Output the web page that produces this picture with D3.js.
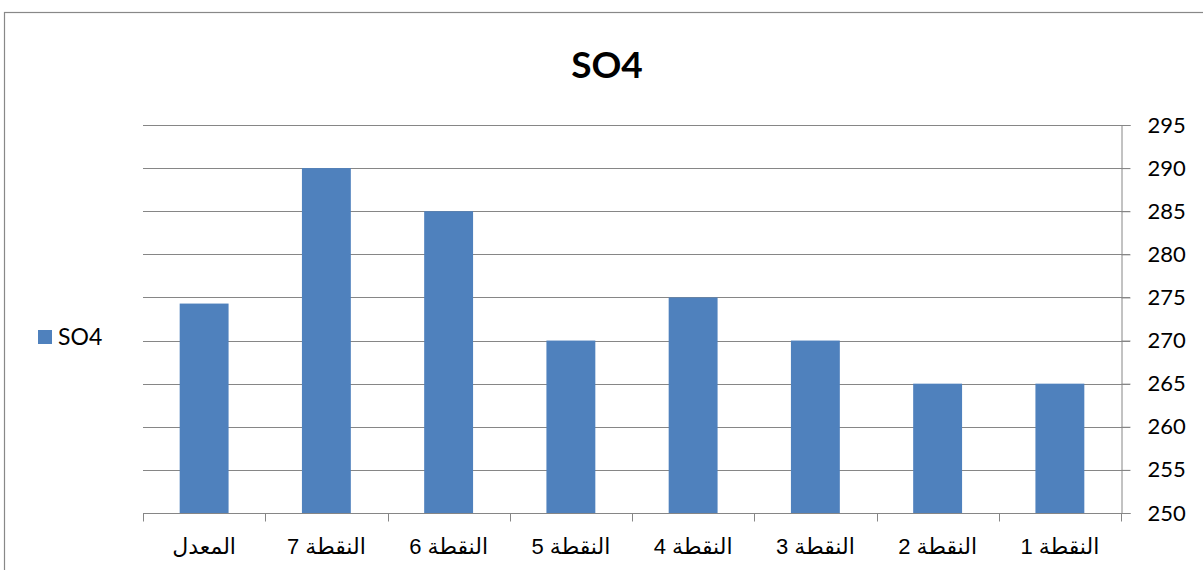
<!DOCTYPE html>
<html><head><meta charset="utf-8">
<script src="https://cdn.jsdelivr.net/npm/d3@7"></script>
<style>body{margin:0;background:#fff}svg{display:block}</style>
</head><body>
<svg id="c" width="1203" height="570"></svg>
<script>
const categories = ["المعدل","النقطة 7","النقطة 6","النقطة 5","النقطة 4","النقطة 3","النقطة 2","النقطة 1"];
const values = [274.29, 290, 285, 270, 275, 270, 265, 265];
const yTicks = [250,255,260,265,270,275,280,285,290,295];
const seriesName = "SO4";
const title = "SO4";

const svg = d3.select("#c");
const L = 143, R = 1121, T = 125, B = 513;
// chart border
svg.append("rect").attr("x",4.5).attr("y",12.5).attr("width",1220).attr("height",600)
  .attr("fill","none").attr("stroke","#888").attr("stroke-width",1.2);

const x = d3.scaleBand().domain(categories).range([L,R]).paddingInner(0.6).paddingOuter(0.3);
const xb = d3.scaleBand().domain(categories).range([L,R]);
const y = d3.scaleLinear().domain([250,295]).range([B,T]);

// gridlines
svg.append("g").selectAll("line").data(yTicks.slice(1)).join("line")
  .attr("x1",L).attr("x2",R+9).attr("y1",d=>Math.round(y(d))+0.5).attr("y2",d=>Math.round(y(d))+0.5)
  .attr("stroke","#868686").attr("stroke-width",1);

// bars
svg.append("g").selectAll("rect").data(values).join("rect")
  .attr("x",(d,i)=>x(categories[i])).attr("width",x.bandwidth())
  .attr("y",d=>y(d)).attr("height",d=>B-y(d)).attr("fill","#4F81BD");

// right axis
const ya = svg.append("g").attr("transform",`translate(${R+0.5},0)`)
  .call(d3.axisRight(y).tickValues(yTicks).tickSize(9).tickPadding(17).tickFormat(d3.format("d")));
ya.select(".domain").attr("stroke","#868686");
ya.selectAll(".tick line").attr("stroke","#868686");
ya.selectAll(".tick text").attr("font-family","Lato, 'Open Sans', sans-serif").attr("font-size",22).attr("fill","#000");

// bottom axis
const bx = svg.append("g").attr("transform",`translate(0,${B+0.5})`);
bx.append("line").attr("x1",L).attr("x2",R+9).attr("stroke","#868686");
const edges = categories.map(c=>xb(c)).concat([R]);
bx.selectAll("line.t").data(edges).join("line").attr("class","t")
  .attr("x1",d=>Math.round(d)+0.5).attr("x2",d=>Math.round(d)+0.5).attr("y1",0).attr("y2",8)
  .attr("stroke","#868686");
bx.selectAll("text").data(categories).join("text")
  .attr("x",d=>xb(d)+xb.bandwidth()/2).attr("y",40)
  .attr("text-anchor","middle").attr("font-family","'Liberation Sans', Arial, 'DejaVu Sans', sans-serif")
  .attr("font-size",22).attr("fill","#000").text(d=>d);

// title
svg.append("text").attr("x",607).attr("y",78).attr("text-anchor","middle")
  .attr("font-family","Lato, 'Open Sans', sans-serif").attr("font-weight","bold").attr("font-size",37)
  .text(title);

// legend
svg.append("rect").attr("x",38).attr("y",330).attr("width",14).attr("height",14).attr("fill","#4F81BD");
svg.append("text").attr("x",58).attr("y",345).attr("font-family","Lato, 'Open Sans', sans-serif")
  .attr("font-size",23).text(seriesName);
</script>
</body></html>
